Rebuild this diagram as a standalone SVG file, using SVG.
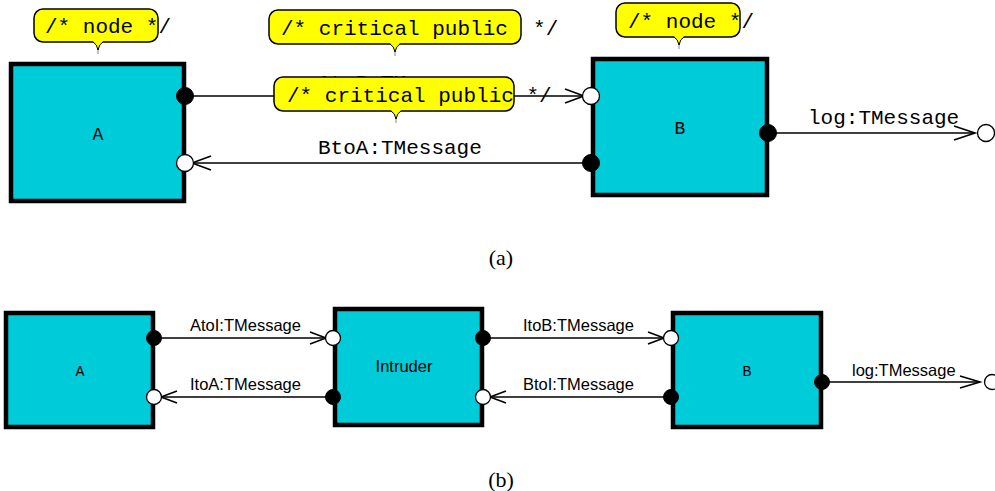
<svg xmlns="http://www.w3.org/2000/svg" width="995" height="491" viewBox="0 0 995 491">
<style>
.box{fill:#00CCD9;stroke:#000;stroke-width:4.5}
.mono{font-family:"Liberation Mono","DejaVu Sans Mono",monospace;fill:#000}
.sans{font-family:"Liberation Sans",Arial,sans-serif;fill:#000}
.serif{font-family:"Liberation Serif","Times New Roman",serif;fill:#000}
.line{stroke:#000;stroke-width:1.6;fill:none}
.chev{stroke:#000;stroke-width:1.6;fill:none}
.pf{fill:#000;stroke:#000;stroke-width:1}
.po{fill:#fff;stroke:#000;stroke-width:1.3}
.bub{fill:#FFFF00;stroke:#000;stroke-width:1.5}
.tail{stroke:#999;stroke-width:1.2}
</style>
<rect width="995" height="491" fill="#fff"/>

<!-- (a) -->
<g id="connectors-a">
  <text class="mono" x="318" y="88.5" font-size="21">AtoB:TMessage</text>
  <line class="line" x1="185" y1="96" x2="584" y2="96"/>
  <polyline class="chev" points="565,89 584,96 565,103"/>
  <text class="mono" x="318" y="154" font-size="21">BtoA:TMessage</text>
  <line class="line" x1="193" y1="163" x2="591" y2="163"/>
  <polyline class="chev" points="211,156 192,163 211,170"/>
  <text class="mono" x="808" y="124" font-size="21">log:TMessage</text>
  <line class="line" x1="768" y1="133" x2="975" y2="133"/>
  <polyline class="chev" points="954,126 975,133 954,140"/>
  <circle class="po" cx="986" cy="133" r="8.5"/>
</g>

<g id="nodeA-a">
  <rect class="box" x="11" y="64" width="173" height="137"/>
  <text class="mono" x="98" y="140" font-size="18" text-anchor="middle">A</text>
  <circle class="pf" cx="185" cy="96" r="8.5"/>
  <circle class="po" cx="185" cy="163" r="8.5"/>
</g>

<g id="nodeB-a">
  <rect class="box" x="593" y="59" width="174" height="136"/>
  <text class="mono" x="680" y="134" font-size="18" text-anchor="middle">B</text>
  <circle class="po" cx="591" cy="96" r="8.5"/>
  <circle class="pf" cx="591" cy="163" r="8.5"/>
  <circle class="pf" cx="768" cy="133" r="8.5"/>
</g>

<g id="note-nodeA">
  <line class="tail" x1="98" y1="42" x2="98" y2="54"/>
  <rect class="bub" x="34" y="9" width="124" height="33" rx="9"/>
  <path d="M93,41 L98,49 L103,41 Z" fill="#FFFF00"/>
  <path d="M93,42 Q97,44 98,50 M103,42 Q99,44 98,50" stroke="#000" stroke-width="1" fill="none"/>
  <text class="mono" x="45" y="33" font-size="21">/* node */</text>
</g>

<g id="note-nodeB">
  <line class="tail" x1="679" y1="37" x2="679" y2="49"/>
  <rect class="bub" x="616" y="3" width="124" height="34" rx="9"/>
  <path d="M674,36 L679,44 L684,36 Z" fill="#FFFF00"/>
  <path d="M674,37 Q678,39 679,45 M684,37 Q680,39 679,45" stroke="#000" stroke-width="1" fill="none"/>
  <text class="mono" x="628" y="28" font-size="21">/* node */</text>
</g>

<g id="note-critical-1">
  <line class="tail" x1="395" y1="44" x2="395" y2="56"/>
  <rect class="bub" x="269" y="10" width="252" height="34" rx="9"/>
  <path d="M390,43 L395,51 L400,43 Z" fill="#FFFF00"/>
  <path d="M390,44 Q394,46 395,52 M400,44 Q396,46 395,52" stroke="#000" stroke-width="1" fill="none"/>
  <text class="mono" x="281" y="35" font-size="21" xml:space="preserve">/* critical public  */</text>
</g>

<g id="note-critical-2">
  <line class="tail" x1="396" y1="111" x2="396" y2="123"/>
  <rect class="bub" x="274" y="77" width="240" height="34" rx="9"/>
  <path d="M391,110 L396,118 L401,110 Z" fill="#FFFF00"/>
  <path d="M391,111 Q395,113 396,119 M401,111 Q397,113 396,119" stroke="#000" stroke-width="1" fill="none"/>
  <text class="mono" x="287" y="102" font-size="21">/* critical public */</text>
</g>

<text class="serif" x="501" y="265" font-size="22" text-anchor="middle">(a)</text>

<!-- (b) -->
<g id="connectors-b">
  <text class="sans" x="190" y="331" font-size="16.5">AtoI:TMessage</text>
  <line class="line" x1="154" y1="338" x2="326" y2="338"/>
  <polyline class="chev" points="310,332 326,338 310,344"/>
  <text class="sans" x="190" y="390" font-size="16.5">ItoA:TMessage</text>
  <line class="line" x1="161" y1="397" x2="333" y2="397"/>
  <polyline class="chev" points="177,391 161,397 177,403"/>
  <text class="sans" x="523" y="331" font-size="16.5">ItoB:TMessage</text>
  <line class="line" x1="483" y1="338" x2="664" y2="338"/>
  <polyline class="chev" points="648,332 664,338 648,344"/>
  <text class="sans" x="523" y="390" font-size="16.5">BtoI:TMessage</text>
  <line class="line" x1="490" y1="397" x2="671" y2="397"/>
  <polyline class="chev" points="506,391 490,397 506,403"/>
  <text class="sans" x="852" y="376" font-size="16.5">log:TMessage</text>
  <line class="line" x1="822" y1="382" x2="980" y2="382"/>
  <polyline class="chev" points="960,376 980,382 960,388"/>
  <circle class="po" cx="992" cy="382" r="7.5"/>
</g>

<g id="nodeA-b">
  <rect class="box" x="6" y="313" width="147" height="114"/>
  <text class="mono" x="80" y="376" font-size="15" text-anchor="middle">A</text>
  <circle class="pf" cx="154" cy="338" r="7.5"/>
  <circle class="po" cx="154" cy="397" r="7.5"/>
</g>

<g id="intruder">
  <rect class="box" x="335" y="309" width="147" height="116"/>
  <text class="sans" x="404" y="372" font-size="16.5" text-anchor="middle">Intruder</text>
  <circle class="po" cx="333" cy="338" r="7.5"/>
  <circle class="pf" cx="333" cy="397" r="7.5"/>
  <circle class="pf" cx="483" cy="338" r="7.5"/>
  <circle class="po" cx="483" cy="397" r="7.5"/>
</g>

<g id="nodeB-b">
  <rect class="box" x="673" y="313" width="148" height="114"/>
  <text class="mono" x="747" y="376" font-size="15" text-anchor="middle">B</text>
  <circle class="po" cx="671" cy="338" r="7.5"/>
  <circle class="pf" cx="671" cy="397" r="7.5"/>
  <circle class="pf" cx="822" cy="382" r="7.5"/>
</g>

<text class="serif" x="501" y="487" font-size="22" text-anchor="middle">(b)</text>
</svg>
